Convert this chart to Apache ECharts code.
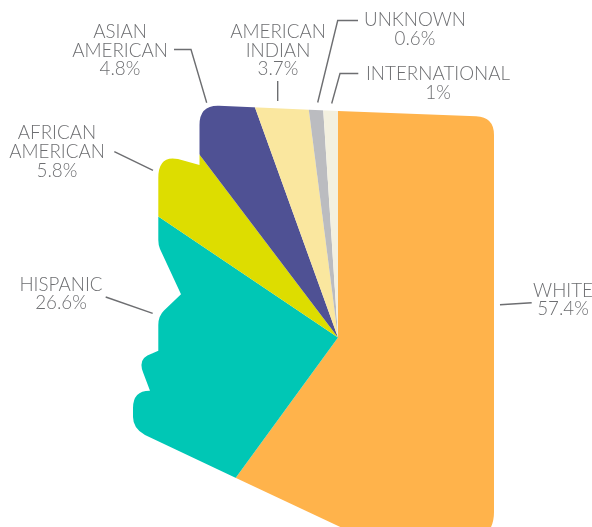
<!DOCTYPE html>
<html>
<head>
<meta charset="utf-8">
<style>html,body{margin:0;padding:0;background:#fff}#c{width:592px;height:527px}</style>
<script src="https://cdn.jsdelivr.net/npm/echarts@6/dist/echarts.min.js"></script>
</head>
<body>
<div id="c"></div>
<script>
// Categories clockwise from the top, with the percentages printed on the chart.
const categories = ['WHITE', 'HISPANIC', 'AFRICAN\nAMERICAN', 'ASIAN\nAMERICAN', 'AMERICAN\nINDIAN', 'UNKNOWN', 'INTERNATIONAL'];
const printedPercent = [57.4, 26.6, 5.8, 4.8, 3.7, 0.6, 1];
// Shares as actually drawn in the reference; they differ a little from the printed figures.
const drawnShare = [60.0, 24.4, 5.25, 4.8, 3.48, 1.0, 1.03];
const sliceColors = ['#FFB34B', '#00C7B5', '#DDDD00', '#4F5194', '#FAE79F', '#BBBCC0', '#F3F0DF'];

// Layout only
const labelCenters = [[563, 300], [61, 294], [57, 152], [120, 50.5], [278, 50.5], [415, 29.5], [438, 83.5]];
const leaders = [
  [[500, 304.7], [531.7, 302.7]],
  [[105.7, 297], [152.7, 313.3]],
  [[114.3, 151.7], [153, 170.3]],
  [[174, 49.5], [191, 49.5], [206.7, 102.7]],
  [[277.7, 81], [277.7, 101]],
  [[358, 20.5], [337.7, 20.5], [317.7, 102.5]],
  [[358.3, 73.5], [340, 73.5], [331.7, 103.5]]
];
const center = [338, 337.5];
// White sheet with a state-shaped hole (Arizona): the pie shows only through the hole.
const stateMask = 'M-50,-50 L-50,600 L700,600 L700,-50 Z ' +
  'M199.5,125 Q199.5,105 219,105.7 L338,111 L476,116.3 Q494,117 494,135 L494,512 Q494,532 478,540 ' +
  'L368,540 L236,478 L145,435 Q133,428.5 133,417 L133,408 Q133,390.5 150,390.7 L143.3,373 ' +
  'Q137,358 152,353.5 L158.3,350.7 L158.3,325 Q158.3,316 164,310.5 L181,294.3 L160,249 Q158.3,245 158.3,240 ' +
  'L158.3,178 Q158.3,155 178,159 L199.5,165 Z';

const pieData = categories.map((name, i) => ({ name, value: drawnShare[i], itemStyle: { color: sliceColors[i] } }));
const textColor = '#6D6E71';

const chart = echarts.init(document.getElementById('c'), null, { renderer: 'canvas' });
chart.setOption({
  animation: false,
  backgroundColor: '#fff',
  series: [
    {
      type: 'pie', z: 2, silent: true, center, radius: [0, 320], startAngle: 90, clockwise: true,
      label: { show: false }, labelLine: { show: false }, data: pieData,
      itemStyle: { borderWidth: 0 }
    },
    {
      type: 'custom', z: 5, coordinateSystem: 'none', silent: true, data: [0],
      renderItem: () => ({
        type: 'path',
        shape: { pathData: stateMask, x: -50, y: -50, width: 750, height: 650, layout: 'cover' },
        style: { fill: '#fff', stroke: null }
      })
    },
    {
      type: 'pie', z: 8, silent: true, center, radius: [0, 10], startAngle: 90, clockwise: true,
      itemStyle: { color: 'rgba(0,0,0,0)' },
      avoidLabelOverlap: false,
      data: pieData.map(d => ({ name: d.name, value: d.value })),
      labelLine: { show: false },
      label: {
        show: true, position: 'outside',
        formatter: p => p.name + '\n' + printedPercent[p.dataIndex] + '%',
        fontFamily: 'Lato', fontWeight: 300, fontSize: 18.8, lineHeight: 18.7, color: textColor, align: 'center'
      },
      labelLayout: p => ({
        x: labelCenters[p.dataIndex][0], y: labelCenters[p.dataIndex][1],
        align: 'center', verticalAlign: 'middle', hideOverlap: false
      })
    }
  ],
  graphic: leaders.map(points => ({
    type: 'polyline', z: 10, silent: true,
    shape: { points },
    style: { stroke: textColor, lineWidth: 1.4, fill: null }
  }))
});
</script>
</body>
</html>
